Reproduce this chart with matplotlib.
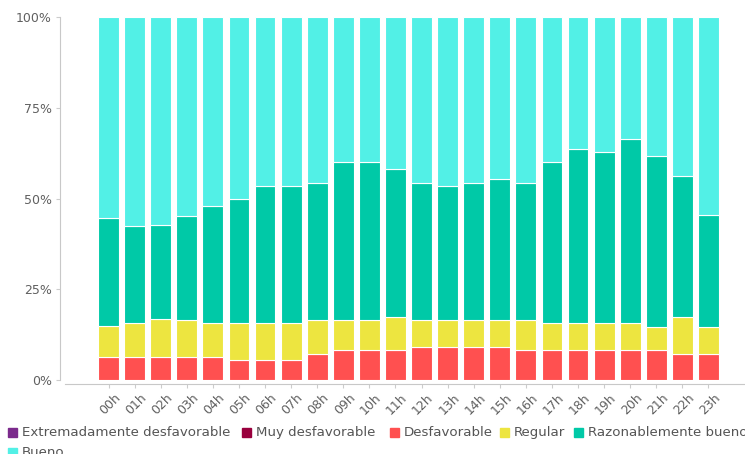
import matplotlib.pyplot as plt
from matplotlib.patches import Rectangle

# Hourly share of each air-quality category (%)
hours = ['00h', '01h', '02h', '03h', '04h', '05h', '06h', '07h', '08h', '09h', '10h', '11h',
         '12h', '13h', '14h', '15h', '16h', '17h', '18h', '19h', '20h', '21h', '22h', '23h']

extremadamente = [0] * 24
muy_desfavorable = [0] * 24
desfavorable = [6.4, 6.3, 6.4, 6.3, 6.3, 5.4, 5.4, 5.4, 7.2, 8.3, 8.3, 8.3,
                9.1, 9.1, 9.1, 9.1, 8.3, 8.3, 8.3, 8.3, 8.3, 8.3, 7.2, 7.2]
regular = [8.5, 9.3, 10.3, 10.2, 9.3, 10.2, 10.2, 10.2, 9.3, 8.2, 8.2, 9.1,
           7.4, 7.4, 7.4, 7.4, 8.2, 7.3, 7.3, 7.3, 7.3, 6.4, 10.2, 7.5]
razonable = [29.8, 26.8, 26.1, 28.7, 32.4, 34.2, 37.9, 37.9, 37.9, 43.5, 43.5, 40.7,
             37.9, 37.0, 37.9, 38.8, 37.9, 44.4, 48.0, 47.2, 50.8, 47.1, 38.8, 30.8]
bueno = [55.3, 57.6, 57.2, 54.8, 52.0, 50.2, 46.5, 46.5, 45.6, 40.0, 40.0, 41.9,
         45.6, 46.5, 45.6, 44.7, 45.6, 40.0, 36.4, 37.2, 33.6, 38.2, 43.8, 54.5]

series = [
    ('Extremadamente desfavorable', extremadamente, '#7b2a8c'),
    ('Muy desfavorable', muy_desfavorable, '#99003d'),
    ('Desfavorable', desfavorable, '#ff5050'),
    ('Regular', regular, '#ede540'),
    ('Razonablemente bueno', razonable, '#00c9a7'),
    ('Bueno', bueno, '#52f0e6'),
]

W, H = 745, 454
fig = plt.figure(figsize=(W / 100, H / 100), dpi=100)
ax = fig.add_axes([60 / W, (H - 380) / H, 1 - 60 / W, (380 - 17) / H])

x = list(range(len(hours)))
bottom = [0] * len(hours)
for name, vals, color in series:
    if any(vals):
        ax.bar(x, vals, width=0.8, bottom=bottom, color=color,
               edgecolor='white', linewidth=0.8)
    bottom = [b + v for b, v in zip(bottom, vals)]

ax.set_xlim(-1.86, 24.4)
ax.set_ylim(0, 100)

text_color = '#606060'
ax.tick_params(axis='y', colors='#cccccc', length=3, width=0.8, labelcolor=text_color,
               labelsize=9, pad=3)
ax.tick_params(axis='x', colors='#cccccc', length=3, width=0.8, labelbottom=False)
ax.set_yticks([0, 25, 50, 75, 100])
ax.set_yticklabels(['0%', '25%', '50%', '75%', '100%'])
ax.set_xticks(x)

# slanted hour labels under each bar
for i, lbl in enumerate(hours):
    ax.text(i + 0.2, -0.03, lbl, transform=ax.get_xaxis_transform(), rotation=45,
            rotation_mode='anchor', ha='right', va='top', fontsize=9, color=text_color)

for side in ['top', 'right']:
    ax.spines[side].set_visible(False)
ax.spines['left'].set_color('#c8c8c8')
ax.spines['left'].set_linewidth(0.8)
ax.spines['bottom'].set_color('#c8c8c8')
ax.spines['bottom'].set_linewidth(0.8)
ax.spines['bottom'].set_position(('outward', 3))
ax.spines['bottom'].set_bounds(-1.67, 24.4)

# Legend laid out in two rows along the bottom edge (square centre y, text baseline y)
legend_pos = [(8, 432.5, 436), (242, 432.5, 436), (390, 432.5, 436),
              (500, 432.5, 436), (574, 432.5, 436), (8, 452, 455.5)]
for (name, vals, color), (px, sy, by) in zip(series, legend_pos):
    fig.patches.append(Rectangle((px / W, (H - sy - 4.5) / H), 9 / W, 9 / H,
                                 transform=fig.transFigure, color=color))
    fig.text((px + 14) / W, (H - by) / H, name, fontsize=9.6, color='#555555',
             va='baseline', ha='left')

plt.savefig('out.png', dpi=100)
